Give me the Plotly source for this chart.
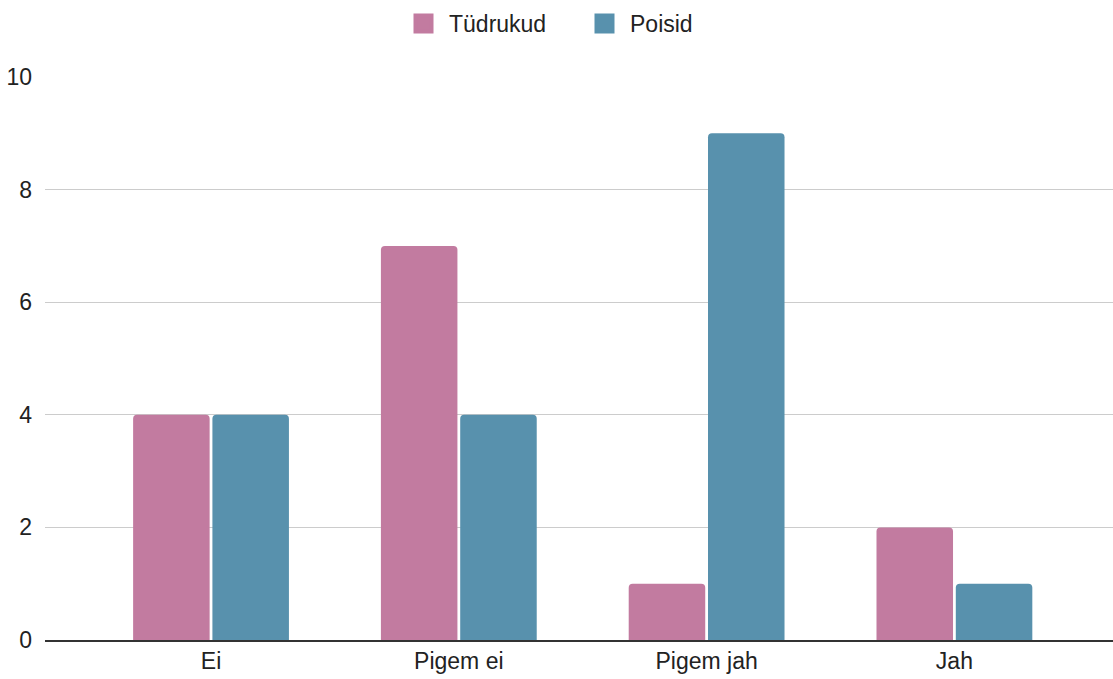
import plotly.graph_objects as go

categories = ["Ei", "Pigem ei", "Pigem jah", "Jah"]
tudrukud = [4, 7, 1, 2]
poisid = [4, 4, 9, 1]
yticks = [0, 2, 4, 6, 8, 10]
series_names = ["Tüdrukud", "Poisid"]
colors = ["#C27BA0", "#5891AD"]

fig = go.Figure()
for name, vals, col in zip(series_names, [tudrukud, poisid], colors):
    fig.add_trace(go.Bar(name=name, x=categories, y=vals, marker_color=col,
                         marker_line_width=0, showlegend=False))
# legend entries with larger square symbols
for name, col in zip(series_names, colors):
    fig.add_trace(go.Scatter(name=name, x=[None], y=[None], mode="markers",
                             marker=dict(symbol="square", size=18, color=col,
                                         line=dict(color=col, width=4)),
                             showlegend=True))

fig.update_layout(
    width=1113, height=679,
    margin=dict(l=45, r=0, t=77, b=39),
    barmode="group", bargap=0.36, bargroupgap=0.035,
    barcornerradius=4,
    plot_bgcolor="white", paper_bgcolor="white",
    font=dict(family="Liberation Sans, Arial, sans-serif", size=23, color="#222222"),
    legend=dict(orientation="h", x=0.5, xanchor="center", y=0.997, yanchor="top",
                yref="container", font=dict(size=23, color="#222222"), itemsizing="trace",
                itemwidth=41, entrywidth=125),
    xaxis=dict(range=[-0.67, 3.64], showgrid=False, showline=True, linecolor="#333333", linewidth=1.5,
               ticks="", tickfont=dict(size=23)),
    yaxis=dict(range=[0, 10], tickvals=yticks, gridcolor="#CCCCCC", gridwidth=1, zeroline=False,
               showline=False, ticklabelstandoff=12, tickfont=dict(size=23)),
)
fig.write_html("out.html")
